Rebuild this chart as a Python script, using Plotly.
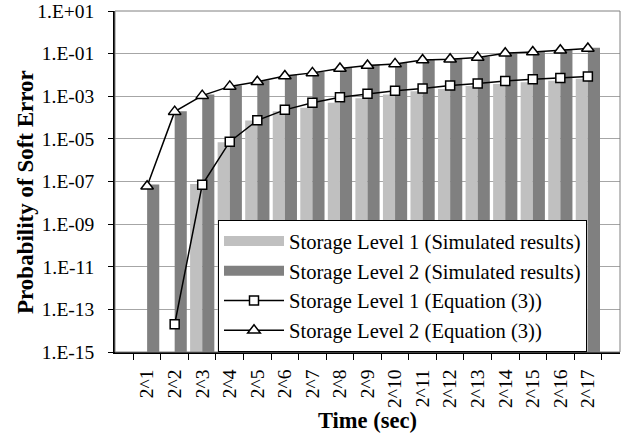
import plotly.graph_objects as go

categories = ["2^%d" % i for i in range(1, 18)]
sim_level1 = [None, None, 7.6e-8, 7.0e-6, 7.2e-5, 2.0e-4, 2.9e-4, 5.0e-4, 8.0e-4, 1.2e-3,
              1.7e-3, 2.2e-3, 3.0e-3, 3.8e-3, 4.6e-3, 5.4e-3, 6.7e-3]
sim_level2 = [7.2e-8, 2.0e-4, 1.2e-3, 3.2e-3, 5.6e-3, 1.0e-2, 1.4e-2, 2.2e-2, 3.0e-2, 3.6e-2,
              5.3e-2, 6.0e-2, 7.2e-2, 0.11, 0.13, 0.16, 0.19]
eq_level1 = [None, 2.0e-14, 7.0e-8, 7.4e-6, 7.4e-5, 2.3e-4, 5.0e-4, 8.9e-4, 1.3e-3, 1.8e-3,
             2.3e-3, 3.2e-3, 4.0e-3, 5.2e-3, 6.2e-3, 7.1e-3, 8.5e-3]
eq_level2 = [6.0e-8, 1.9e-4, 1.07e-3, 2.9e-3, 4.8e-3, 8.9e-3, 1.25e-2, 2.0e-2, 2.8e-2, 3.3e-2,
             5.0e-2, 5.5e-2, 6.6e-2, 0.105, 0.12, 0.145, 0.175]
tick_vals = [1e-15, 1e-13, 1e-11, 1e-9, 1e-7, 1e-5, 1e-3, 1e-1, 1e1]
tick_text = ["1.E-15", "1.E-13", "1.E-11", "1.E-09", "1.E-07", "1.E-05", "1.E-03", "1.E-01", "1.E+01"]
names = ["Storage Level 1 (Simulated results)", "Storage Level 2 (Simulated results)",
         "Storage Level 1 (Equation (3))", "Storage Level 2 (Equation (3))"]

FONT = "Liberation Serif, Times New Roman, serif"
LIGHT, DARK = "#C0C0C0", "#808080"

W, H = 633, 440
L, R, T, B = 115, 13, 11, 88

fig = go.Figure()
fig.add_trace(go.Bar(x=categories, y=sim_level1, name=names[0], showlegend=False,
                     legendgroup="a", marker=dict(color=LIGHT, line=dict(width=0))))
fig.add_trace(go.Bar(x=categories, y=sim_level2, name=names[1], showlegend=False,
                     legendgroup="b", marker=dict(color=DARK, line=dict(width=0))))
# legend swatches for the bar series (wide rectangles, as in the original)
fig.add_trace(go.Scatter(x=[None], y=[None], mode="lines", name=names[0], legendgroup="a",
                         line=dict(color=LIGHT, width=14)))
fig.add_trace(go.Scatter(x=[None], y=[None], mode="lines", name=names[1], legendgroup="b",
                         line=dict(color=DARK, width=14)))
fig.add_trace(go.Scatter(x=categories, y=eq_level1, name=names[2],
                         mode="lines+markers", connectgaps=False,
                         line=dict(color="black", width=1.5),
                         marker=dict(symbol="square", size=9, color="white",
                                     line=dict(color="black", width=1.5))))
fig.add_trace(go.Scatter(x=categories, y=eq_level2, name=names[3],
                         mode="lines+markers",
                         line=dict(color="black", width=1.5),
                         marker=dict(symbol="triangle-up", size=11, color="white",
                                     line=dict(color="black", width=1.5))))

pw = W - L - R
ph = H - T - B

fig.update_layout(
    width=W, height=H,
    margin=dict(l=L, r=R, t=T, b=B, autoexpand=False),
    paper_bgcolor="white", plot_bgcolor="white",
    barmode="group", bargap=0.12, bargroupgap=0,
    font=dict(family=FONT, size=20, color="black"),
    showlegend=True,
    legend=dict(x=(218 - L) / pw, y=(H - B - 220) / ph, xanchor="left", yanchor="top",
                bgcolor="white", bordercolor="black", borderwidth=1,
                font=dict(family=FONT, size=20.6), tracegroupgap=0,
                itemwidth=60),
    xaxis=dict(
        type="category", tickangle=-90, tickson="boundaries",
        ticks="outside", ticklen=6, tickcolor="black",
        showline=True, linecolor="black", linewidth=1.5, mirror=False,
        showgrid=False, tickfont=dict(family=FONT, size=19.5),
        automargin=False, ticklabelstandoff=8,
    ),
    yaxis=dict(
        type="log", range=[-15, 1.0005],
        tickvals=tick_vals, ticktext=tick_text,
        ticks="outside", ticklen=5, tickcolor="black",
        showline=True, linecolor="black", linewidth=1.5,
        showgrid=True, gridcolor="#A6A6A6", gridwidth=1,
        tickfont=dict(family=FONT, size=19.5),
        automargin=False, ticklabelstandoff=10, ticklabeloverflow="allow",
    ),
    annotations=[
        dict(text="<b>Time (sec)</b>", xref="paper", yref="paper",
             x=0.5, y=-(420 - (H - B)) / ph, xanchor="center", yanchor="middle",
             showarrow=False, font=dict(family=FONT, size=22.5)),
        dict(text="<b>Probability of Soft Error</b>", xref="paper", yref="paper",
             x=-(L - 25) / pw, y=(H - B - 192) / ph, xanchor="center", yanchor="middle",
             textangle=-90, showarrow=False, font=dict(family=FONT, size=23)),
    ],
)
fig.add_shape(type="rect", xref="paper", yref="paper", x0=0, y0=0, x1=1, y1=1,
              line=dict(color="#808080", width=1), layer="above")

fig.write_html("out.html", config={"displayModeBar": False},
               post_script="document.body.style.margin='0';")
